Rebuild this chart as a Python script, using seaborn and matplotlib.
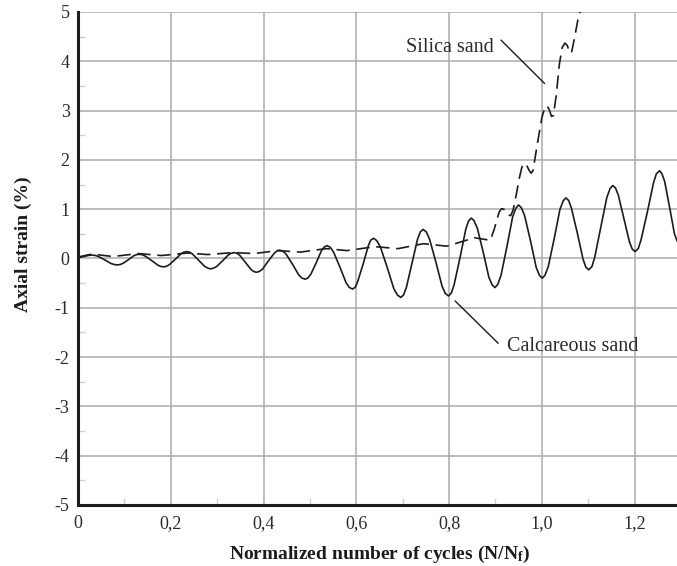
import matplotlib
matplotlib.use('Agg')
import matplotlib.pyplot as plt
from matplotlib.ticker import MultipleLocator
import numpy as np
import pandas as pd
import seaborn as sns

# Calcareous sand (solid line)
calc_x = [0.000, 0.008, 0.015, 0.023, 0.027, 0.030,
          0.037, 0.044, 0.058, 0.071, 0.078, 0.085,
          0.091, 0.097, 0.109, 0.120, 0.126, 0.132,
          0.139, 0.145, 0.159, 0.172, 0.178, 0.185,
          0.191, 0.197, 0.210, 0.222, 0.228, 0.234,
          0.241, 0.247, 0.260, 0.273, 0.280, 0.286,
          0.292, 0.299, 0.312, 0.324, 0.331, 0.337,
          0.343, 0.349, 0.361, 0.373, 0.379, 0.385,
          0.391, 0.398, 0.410, 0.423, 0.429, 0.435,
          0.442, 0.449, 0.463, 0.476, 0.483, 0.490,
          0.496, 0.502, 0.514, 0.525, 0.531, 0.537,
          0.544, 0.551, 0.565, 0.578, 0.585, 0.592,
          0.598, 0.603, 0.615, 0.626, 0.631, 0.637,
          0.644, 0.652, 0.667, 0.681, 0.689, 0.696,
          0.702, 0.708, 0.720, 0.732, 0.738, 0.744,
          0.751, 0.758, 0.772, 0.785, 0.792, 0.799,
          0.805, 0.811, 0.824, 0.836, 0.842, 0.848,
          0.854, 0.861, 0.874, 0.886, 0.893, 0.899,
          0.905, 0.912, 0.925, 0.937, 0.944, 0.950,
          0.956, 0.963, 0.976, 0.988, 0.995, 1.001,
          1.007, 1.014, 1.027, 1.039, 1.046, 1.052,
          1.058, 1.064, 1.077, 1.089, 1.095, 1.101,
          1.108, 1.114, 1.127, 1.140, 1.147, 1.153,
          1.159, 1.165, 1.177, 1.189, 1.195, 1.201,
          1.208, 1.214, 1.228, 1.241, 1.247, 1.254,
          1.259, 1.265, 1.276, 1.286, 1.292, 1.297]
calc_y = [0.020, 0.030, 0.045, 0.063, 0.068, 0.070,
          0.062, 0.041, -0.030, -0.101, -0.122, -0.130,
          -0.122, -0.099, -0.023, 0.054, 0.077, 0.085,
          0.075, 0.048, -0.043, -0.133, -0.160, -0.170,
          -0.158, -0.125, -0.015, 0.095, 0.128, 0.140,
          0.127, 0.089, -0.035, -0.159, -0.197, -0.210,
          -0.197, -0.162, -0.045, 0.072, 0.107, 0.120,
          0.105, 0.062, -0.080, -0.222, -0.265, -0.280,
          -0.263, -0.214, -0.055, 0.104, 0.153, 0.170,
          0.148, 0.084, -0.125, -0.334, -0.398, -0.420,
          -0.394, -0.320, -0.080, 0.161, 0.234, 0.260,
          0.227, 0.131, -0.180, -0.492, -0.587, -0.620,
          -0.581, -0.469, -0.105, 0.259, 0.371, 0.410,
          0.364, 0.234, -0.190, -0.615, -0.744, -0.790,
          -0.738, -0.588, -0.100, 0.388, 0.538, 0.590,
          0.539, 0.393, -0.085, -0.563, -0.709, -0.760,
          -0.700, -0.529, 0.030, 0.589, 0.760, 0.820,
          0.766, 0.614, 0.115, -0.384, -0.536, -0.590,
          -0.526, -0.345, 0.248, 0.840, 1.021, 1.085,
          1.029, 0.868, 0.343, -0.183, -0.343, -0.400,
          -0.338, -0.162, 0.415, 0.992, 1.168, 1.230,
          1.175, 1.016, 0.500, -0.017, -0.175, -0.230,
          -0.165, 0.020, 0.625, 1.230, 1.415, 1.480,
          1.429, 1.284, 0.810, 0.336, 0.191, 0.140,
          0.202, 0.380, 0.960, 1.540, 1.718, 1.780,
          1.720, 1.560, 1.015, 0.500, 0.350, 0.260]

# Silica sand (dashed line)
silica_x = [0.000, 0.030, 0.075, 0.130, 0.180, 0.235, 0.280, 0.335, 0.380,
            0.430, 0.480, 0.535, 0.580, 0.640, 0.690, 0.745, 0.795, 0.855,
            0.889, 0.897, 0.903, 0.908, 0.913, 0.918, 0.923, 0.928, 0.933,
            0.938, 0.945, 0.952, 0.957, 0.962, 0.967, 0.972, 0.977, 0.981,
            0.990, 1.000, 1.006, 1.011, 1.016, 1.021, 1.025, 1.031, 1.038,
            1.044, 1.050, 1.055, 1.060, 1.064, 1.070, 1.078, 1.086, 1.090]
silica_y = [0.03, 0.09, 0.04, 0.10, 0.06, 0.11, 0.08, 0.12, 0.10,
            0.16, 0.13, 0.20, 0.16, 0.24, 0.20, 0.30, 0.25, 0.42,
            0.37, 0.58, 0.78, 0.94, 1.01, 1.00, 0.94, 0.88, 0.87,
            0.98, 1.30, 1.65, 1.85, 1.93, 1.90, 1.80, 1.73, 1.78,
            2.30, 2.85, 3.05, 3.10, 3.02, 2.88, 2.90, 3.30, 3.95,
            4.28, 4.37, 4.32, 4.18, 4.17, 4.45, 4.85, 5.10, 5.30]

x_ticks = [0, 0.2, 0.4, 0.6, 0.8, 1.0, 1.2]
x_tick_labels = ['0', '0,2', '0,4', '0,6', '0,8', '1,0', '1,2']
y_ticks = [-5, -4, -3, -2, -1, 0, 1, 2, 3, 4, 5]
y_tick_labels = [str(v) for v in y_ticks]

calc_df = pd.DataFrame({'x': calc_x, 'y': calc_y})
silica_df = pd.DataFrame({'x': silica_x, 'y': silica_y})

sns.set_theme(style='white')
plt.rcParams['font.family'] = ['Liberation Serif', 'DejaVu Serif']
plt.rcParams['mathtext.default'] = 'regular'
plt.rcParams['axes.unicode_minus'] = False

ink = '#1c1c1c'

fig = plt.figure(figsize=(6.77, 5.66), dpi=100)
ax = fig.add_axes([0.1152, 0.1078, 0.8848, 0.871])

ax.grid(True, which='major', color='#ababab', linewidth=1.1)
ax.set_axisbelow(True)

sns.lineplot(data=silica_df, x='x', y='y', ax=ax, color=ink, linewidth=1.2,
             sort=False, estimator=None)
sns.lineplot(data=calc_df, x='x', y='y', ax=ax, color=ink, linewidth=1.2,
             sort=False, estimator=None)
ax.lines[0].set_dashes((8, 4))

ax.set_xlim(0, 1.2915)
ax.set_ylim(-5, 5)
ax.set_xticks(x_ticks)
ax.set_xticklabels(x_tick_labels)
ax.set_yticks(y_ticks)
ax.set_yticklabels(y_tick_labels)
ax.xaxis.set_minor_locator(MultipleLocator(0.1))
ax.yaxis.set_minor_locator(MultipleLocator(0.5))

ax.tick_params(which='major', length=0, labelsize=13, colors='#2a2a2a')
ax.tick_params(axis='x', which='major', pad=7)
ax.tick_params(axis='y', which='major', pad=6)
ax.tick_params(which='minor', bottom=True, left=True, direction='in',
               length=5, width=1, color='#cfcfcf')

for side in ['top', 'right']:
    ax.spines[side].set_visible(False)
for side in ['left', 'bottom']:
    ax.spines[side].set_color(ink)
    ax.spines[side].set_linewidth(2.2)

ax.set_xlabel('Normalized number of cycles (N/N$_f$)', fontsize=14,
              fontweight='bold', color=ink)
ax.set_ylabel('Axial strain (%)', fontsize=14, fontweight='bold', color=ink)
ax.xaxis.set_label_coords(0.503, -0.079)
ax.yaxis.set_label_coords(-0.076, 0.53)

# leader lines and labels
ax.annotate('', xy=(1.006, 3.55), xytext=(0.912, 4.43),
            arrowprops=dict(arrowstyle='-', color=ink, lw=1.0,
                            shrinkA=0, shrinkB=0))
ax.text(0.802, 4.27, 'Silica sand', fontsize=14.5, color='#2a2a2a',
        ha='center', va='center')
ax.annotate('', xy=(0.906, -1.72), xytext=(0.813, -0.86),
            arrowprops=dict(arrowstyle='-', color=ink, lw=1.0,
                            shrinkA=0, shrinkB=0))
ax.text(0.925, -1.79, 'Calcareous sand', fontsize=14.5, color='#2a2a2a',
        ha='left', va='center')

fig.savefig('out.png', dpi=100)
